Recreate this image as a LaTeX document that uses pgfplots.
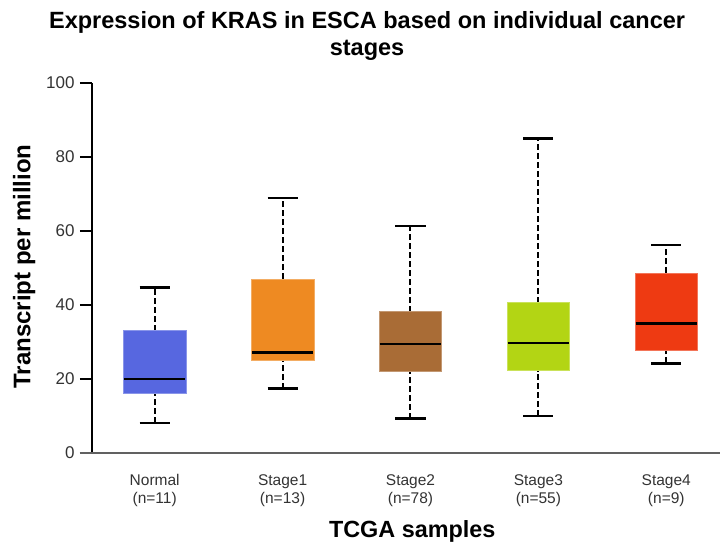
\documentclass[border=0pt]{standalone}
\usepackage{fontspec}
\setmainfont{Liberation Sans}
\usepackage{pgfplots}
\pgfplotsset{compat=1.18}

\definecolor{cNormal}{HTML}{5767E0}
\definecolor{cStageA}{HTML}{EE8A22}
\definecolor{cStageB}{HTML}{A96C36}
\definecolor{cStageC}{HTML}{B3D514}
\definecolor{cStageD}{HTML}{EE3A12}

% pieces of a box plot: dashed whisker, solid cap, filled box, black median
\pgfplotsset{
  whisk/.style={black, line width=2bp, dash pattern=on 6bp off 3bp, mark=none},
  cap/.style={black, line width=2.3bp, solid, mark=none},
  box/.style={fill=#1, draw=#1!70!white, line width=0.8bp, solid, mark=none},
  med/.style={black, line width=2.3bp, solid, mark=none},
}

\begin{document}
\begin{tikzpicture}
\useasboundingbox (0,0) rectangle (720bp,544bp);
\begin{axis}[
  at={(92bp,91bp)}, anchor=south west,
  scale only axis, width=628bp, height=370bp,
  xmin=-0.49, xmax=4.42, ymin=0, ymax=100,
  axis lines=left,
  x axis line style={-, draw=black!62, line width=2.6bp},
  y axis line style={-, draw=black, line width=1.4bp},
  ytick={0,20,40,60,80,100},
  tick align=outside,
  major tick length=12bp,
  ytick style={black, line width=1.2bp},
  xtick={0,1,2,3,4},
  xtick style={draw=none},
  xticklabels={{Normal\\(n=11)},{Stage1\\(n=13)},{Stage2\\(n=78)},{Stage3\\(n=55)},{Stage4\\(n=9)}},
  xticklabel style={align=center, font=\fontsize{15.5bp}{18bp}\selectfont, text=black!80, yshift=-6bp},
  yticklabel style={font=\fontsize{17bp}{20bp}\selectfont, text=black!80, xshift=-2bp},
  /pgf/number format/assume math mode=true,
  ylabel={Transcript per million},
  ylabel style={at={(rel axis cs:-0.108,0.504)}, anchor=center, font=\bfseries\fontsize{24bp}{28bp}\selectfont},
  xlabel={TCGA samples},
  xlabel style={at={(rel axis cs:0.51,-0.213)}, anchor=center, font=\bfseries\fontsize{23.4bp}{27bp}\selectfont},
  title={Expression of KRAS in ESCA based on individual cancer\\stages},
  title style={at={(rel axis cs:0.438,1.111)}, anchor=center, align=center, font=\bfseries\fontsize{23.5bp}{27bp}\selectfont},
  clip=false,
]
% Normal (n=11): whiskers 8.2 / 44.7, quartiles 16.0 / 33.0, median 20.0
\addplot[whisk] coordinates {(0,8.2) (0,16.0)};
\addplot[whisk] coordinates {(0,33.0) (0,44.7)};
\addplot[cap] coordinates {(-0.1175,8.2) (0.1175,8.2)};
\addplot[cap] coordinates {(-0.1175,44.7) (0.1175,44.7)};
\addplot[box=cNormal] coordinates {(-0.245,16.0) (0.245,16.0) (0.245,33.0) (-0.245,33.0)} --cycle;
\addplot[med] coordinates {(-0.24,20.0) (0.24,20.0)};
% Stage1 (n=13): whiskers 17.4 / 69.0, quartiles 25.0 / 47.0, median 27.2
\addplot[whisk] coordinates {(1,17.4) (1,25.0)};
\addplot[whisk] coordinates {(1,47.0) (1,69.0)};
\addplot[cap] coordinates {(0.8825,17.4) (1.1175,17.4)};
\addplot[cap] coordinates {(0.8825,69.0) (1.1175,69.0)};
\addplot[box=cStageA] coordinates {(0.755,25.0) (1.245,25.0) (1.245,47.0) (0.755,47.0)} --cycle;
\addplot[med] coordinates {(0.76,27.2) (1.24,27.2)};
% Stage2 (n=78): whiskers 9.3 / 61.3, quartiles 22.0 / 38.2, median 29.5
\addplot[whisk] coordinates {(2,9.3) (2,22.0)};
\addplot[whisk] coordinates {(2,38.2) (2,61.3)};
\addplot[cap] coordinates {(1.8825,9.3) (2.1175,9.3)};
\addplot[cap] coordinates {(1.8825,61.3) (2.1175,61.3)};
\addplot[box=cStageB] coordinates {(1.755,22.0) (2.245,22.0) (2.245,38.2) (1.755,38.2)} --cycle;
\addplot[med] coordinates {(1.76,29.5) (2.24,29.5)};
% Stage3 (n=55): whiskers 10.0 / 85.0, quartiles 22.2 / 40.6, median 29.8
\addplot[whisk] coordinates {(3,10.0) (3,22.2)};
\addplot[whisk] coordinates {(3,40.6) (3,85.0)};
\addplot[cap] coordinates {(2.8825,10.0) (3.1175,10.0)};
\addplot[cap] coordinates {(2.8825,85.0) (3.1175,85.0)};
\addplot[box=cStageC] coordinates {(2.755,22.2) (3.245,22.2) (3.245,40.6) (2.755,40.6)} --cycle;
\addplot[med] coordinates {(2.76,29.8) (3.24,29.8)};
% Stage4 (n=9): whiskers 24.2 / 56.2, quartiles 27.6 / 48.6, median 35.0
\addplot[whisk] coordinates {(4,24.2) (4,27.6)};
\addplot[whisk] coordinates {(4,48.6) (4,56.2)};
\addplot[cap] coordinates {(3.8825,24.2) (4.1175,24.2)};
\addplot[cap] coordinates {(3.8825,56.2) (4.1175,56.2)};
\addplot[box=cStageD] coordinates {(3.755,27.6) (4.245,27.6) (4.245,48.6) (3.755,48.6)} --cycle;
\addplot[med] coordinates {(3.76,35.0) (4.24,35.0)};
% grey baseline, reaching left under the y ticks
\draw[black!62, line width=2.6bp] ([xshift=-12bp]rel axis cs:0,0) -- (rel axis cs:1,0);
\end{axis}
\end{tikzpicture}
\end{document}
